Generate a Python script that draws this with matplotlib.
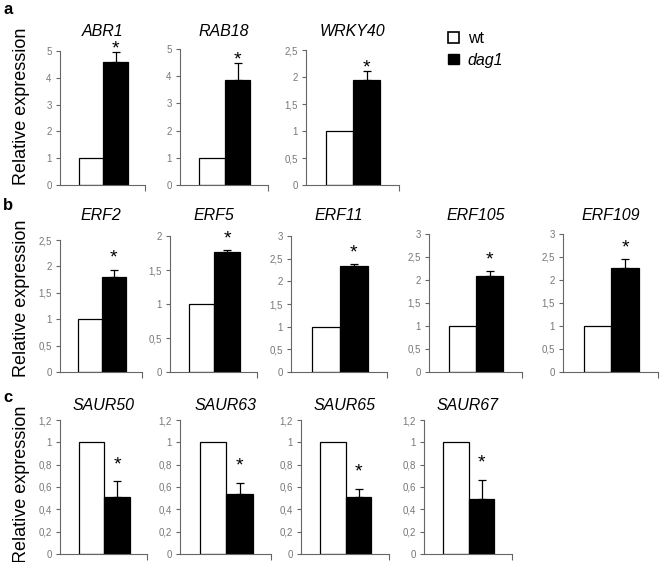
import matplotlib.pyplot as plt
from matplotlib.patches import Patch

plt.rcParams["font.family"] = ["Liberation Sans", "DejaVu Sans"]

# --- data ---
genes_a = ["ABR1", "RAB18", "WRKY40"]
wt_a = [1, 1, 1]
dag1_a = [4.58, 3.85, 1.94]
err_a = [0.37, 0.65, 0.18]
ymax_a = [5, 5, 2.5]
ystep_a = [1, 1, 0.5]

genes_b = ["ERF2", "ERF5", "ERF11", "ERF105", "ERF109"]
wt_b = [1, 1, 1, 1, 1]
dag1_b = [1.80, 1.76, 2.33, 2.09, 2.26]
err_b = [0.14, 0.03, 0.05, 0.11, 0.20]
ymax_b = [2.5, 2, 3, 3, 3]
ystep_b = [0.5, 0.5, 0.5, 0.5, 0.5]

genes_c = ["SAUR50", "SAUR63", "SAUR65", "SAUR67"]
wt_c = [1, 1, 1, 1]
dag1_c = [0.51, 0.535, 0.51, 0.49]
err_c = [0.14, 0.10, 0.07, 0.17]
ymax_c = [1.2, 1.2, 1.2, 1.2]
ystep_c = [0.2, 0.2, 0.2, 0.2]

W, H = 660, 562
fig = plt.figure(figsize=(W / 100, H / 100), dpi=100, facecolor="white")


def px_axes(x0, x1, ytop, ybot):
    return fig.add_axes([x0 / W, 1 - ybot / H, (x1 - x0) / W, (ybot - ytop) / H])


def fmt(v):
    s = ("%.1f" % v).rstrip("0").rstrip(".")
    return s.replace(".", ",")


def draw_panel(ax, gene, wt, dag, err, ymax, ystep, star_off, title_y):
    ax.bar(0, wt, width=1, color="white", edgecolor="black", linewidth=0.9)
    ax.bar(1, dag, width=1, color="black", edgecolor="black", linewidth=0.9)
    ax.errorbar(1, dag, yerr=[[0], [err]], fmt="none", ecolor="black",
                elinewidth=0.9, capsize=3, capthick=0.9)
    ax.annotate("*", xy=(1, dag + err), xytext=(0, star_off),
                textcoords="offset points", ha="center", va="bottom",
                fontsize=14, annotation_clip=False)
    ax.set_xlim(-1.26, 2.19)
    ax.set_ylim(0, ymax)
    n = int(round(ymax / ystep))
    ticks = [i * ystep for i in range(n + 1)]
    ax.set_yticks(ticks)
    ax.set_yticklabels([fmt(t) for t in ticks], fontsize=7, color="#777777")
    ax.set_xticks([2.19])
    ax.set_xticklabels([""])
    ax.tick_params(axis="y", length=3, width=0.8, color="#666666", pad=3)
    ax.tick_params(axis="x", length=4, width=0.8, color="#666666")
    for s in ["top", "right"]:
        ax.spines[s].set_visible(False)
    for s in ["left", "bottom"]:
        ax.spines[s].set_color("#666666")
        ax.spines[s].set_linewidth(0.8)
    ax.set_facecolor("none")
    # gene name above the panel, at a fixed height for the row
    box = ax.get_position()
    fig.text((box.x0 + box.x1) / 2, 1 - title_y / H, gene, style="italic",
             fontsize=11.5, ha="center", va="center")


# row a
pos_a = [(60, 145, 51), (180, 268, 49), (306, 399, 50)]
for (x0, x1, yt), g, w, d, e, m, st in zip(pos_a, genes_a, wt_a, dag1_a, err_a, ymax_a, ystep_a):
    ax = px_axes(x0, x1, yt, 185)
    draw_panel(ax, g, w, d, e, m, st, -4, 32)

# row b
pos_b = [(60, 142, 240), (170, 257, 236), (291, 387, 236), (429, 522, 234), (563, 658, 234)]
for (x0, x1, yt), g, w, d, e, m, st in zip(pos_b, genes_b, wt_b, dag1_b, err_b, ymax_b, ystep_b):
    ax = px_axes(x0, x1, yt, 372)
    draw_panel(ax, g, w, d, e, m, st, 2, 215)

# row c
pos_c = [(60, 147), (180, 271), (301, 389), (424, 512)]
for (x0, x1), g, w, d, e, m, st in zip(pos_c, genes_c, wt_c, dag1_c, err_c, ymax_c, ystep_c):
    ax = px_axes(x0, x1, 420, 554)
    draw_panel(ax, g, w, d, e, m, st, 6, 405)

# y labels and panel letters
for yc in [106, 298, 484]:
    fig.text(22 / W, 1 - yc / H, "Relative expression", rotation=90,
             ha="center", va="center", fontsize=13)
for letter, (xc, yc) in zip(["a", "b", "c"], [(8, 10), (8, 205), (8, 397)]):
    fig.text(xc / W, 1 - yc / H, letter, ha="center", va="center",
             fontsize=12, fontweight="bold")

# legend
handles = [Patch(facecolor="white", edgecolor="black", linewidth=1.2),
           Patch(facecolor="black", edgecolor="black")]
leg = fig.legend(handles, ["wt", "dag1"], loc="upper left",
                 bbox_to_anchor=(442 / W, 1 - 25 / H), frameon=False,
                 fontsize=11.5, handlelength=0.65, handleheight=0.65,
                 handletextpad=0.55, labelspacing=0.4, borderaxespad=0)
leg.get_texts()[1].set_style("italic")

fig.savefig("out.png", dpi=100)
